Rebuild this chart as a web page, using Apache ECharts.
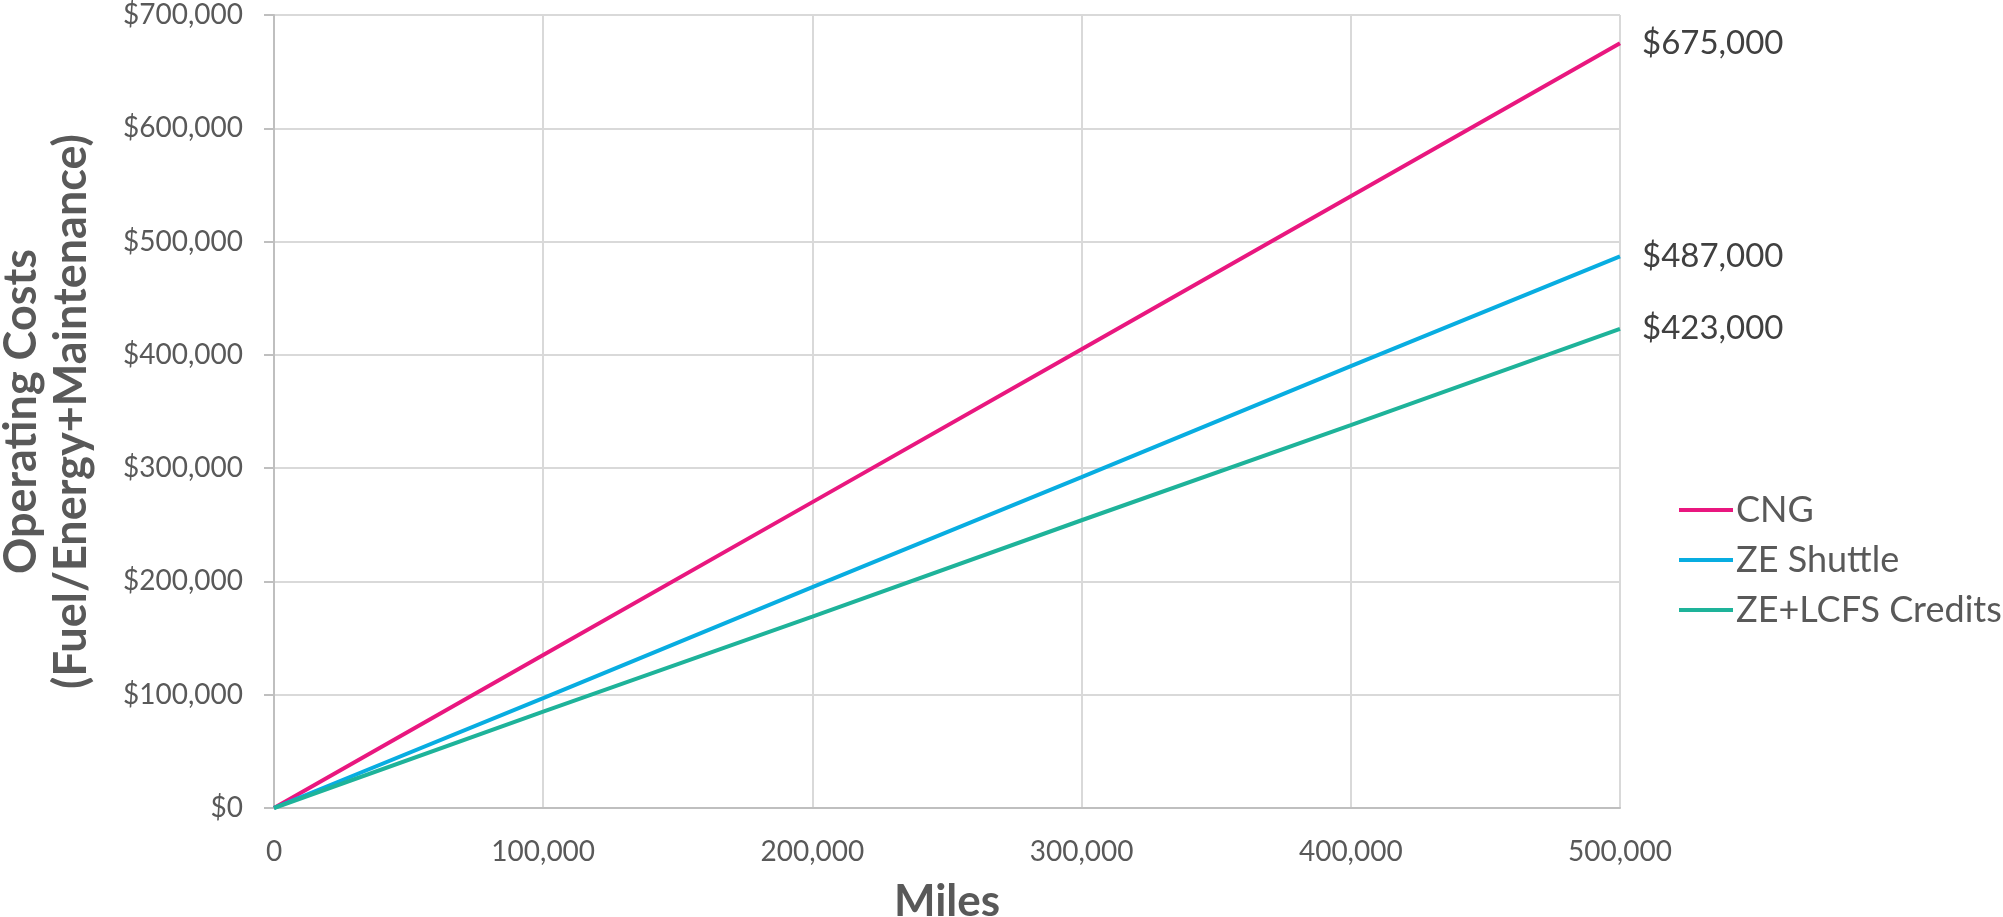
<!DOCTYPE html>
<html>
<head>
<meta charset="utf-8">
<script src="https://cdn.jsdelivr.net/npm/echarts@6/dist/echarts.min.js"></script>
<style>html,body{margin:0;padding:0;background:#fff;}#c{width:2003px;height:917px;}</style>
</head>
<body>
<div id="c"></div>
<script>
var miles = [0, 100000, 200000, 300000, 400000, 500000];
var seriesNames = ['CNG', 'ZE Shuttle', 'ZE+LCFS Credits'];
var cng = [0, 135000, 270000, 405000, 540000, 675000];
var zeShuttle = [0, 97000, 195000, 292000, 390000, 487000];
var zeLcfs = [0, 85000, 169000, 254000, 338000, 423000];
var colors = ['#E9177F', '#08ADE1', '#1EB39A'];
var font = 'Lato';

function pairs(vals) { return miles.map(function (m, i) { return [m, vals[i]]; }); }
function fmtNum(v) { return String(v).replace(/\B(?=(\d{3})+(?!\d))/g, ','); }

function mkSeries(name, vals, color) {
  return {
    name: name, type: 'line', data: pairs(vals), symbol: 'none', showSymbol: false,
    lineStyle: { color: color, width: 4 }, itemStyle: { color: color },
    endLabel: {
      show: true, distance: 22, color: '#404040', fontFamily: font, fontSize: 33,
      formatter: function (p) { return '$' + fmtNum(p.value[1]); }
    },
    animation: false
  };
}

var chart = echarts.init(document.getElementById('c'));
chart.setOption({
  animation: false,
  grid: { left: 274, right: 383, top: 15, bottom: 109, containLabel: false, outerBoundsMode: 'none' },
  legend: {
    orient: 'vertical', left: 1674, top: 485, icon: 'rect', itemWidth: 54, itemHeight: 4,
    itemGap: 10, data: seriesNames,
    textStyle: { fontFamily: font, fontSize: 36, lineHeight: 40, color: '#595959', padding: [0, 0, 0, -2] }
  },
  xAxis: {
    type: 'value', min: 0, max: 500000, interval: 100000,
    name: 'Miles', nameLocation: 'middle', nameGap: 72,
    nameTextStyle: { fontFamily: font, fontSize: 44, fontWeight: 'bold', color: '#595959' },
    axisLine: { show: true, lineStyle: { color: '#BFBFBF', width: 2 } },
    axisTick: { show: false },
    splitLine: { show: true, lineStyle: { color: '#D9D9D9', width: 2 } },
    axisLabel: { margin: 30, fontFamily: font, fontSize: 28, color: '#595959', formatter: function (v) { return fmtNum(v); } }
  },
  yAxis: {
    type: 'value', min: 0, max: 700000, interval: 100000,
    name: 'Operating Costs\n(Fuel/Energy+Maintenance)', nameLocation: 'middle', nameGap: 178,
    nameTextStyle: { fontFamily: font, fontSize: 45, lineHeight: 50, fontWeight: 'bold', color: '#595959' },
    axisLine: { show: true, lineStyle: { color: '#BFBFBF', width: 2 } },
    axisTick: { show: true, length: 10, lineStyle: { color: '#BFBFBF', width: 2 } },
    splitLine: { show: true, lineStyle: { color: '#D9D9D9', width: 2 } },
    axisLabel: { margin: 31, fontFamily: font, fontSize: 28, color: '#595959', formatter: function (v) { return '$' + fmtNum(v); } }
  },
  series: [
    mkSeries(seriesNames[0], cng, colors[0]),
    mkSeries(seriesNames[1], zeShuttle, colors[1]),
    mkSeries(seriesNames[2], zeLcfs, colors[2])
  ]
});
</script>
</body>
</html>
